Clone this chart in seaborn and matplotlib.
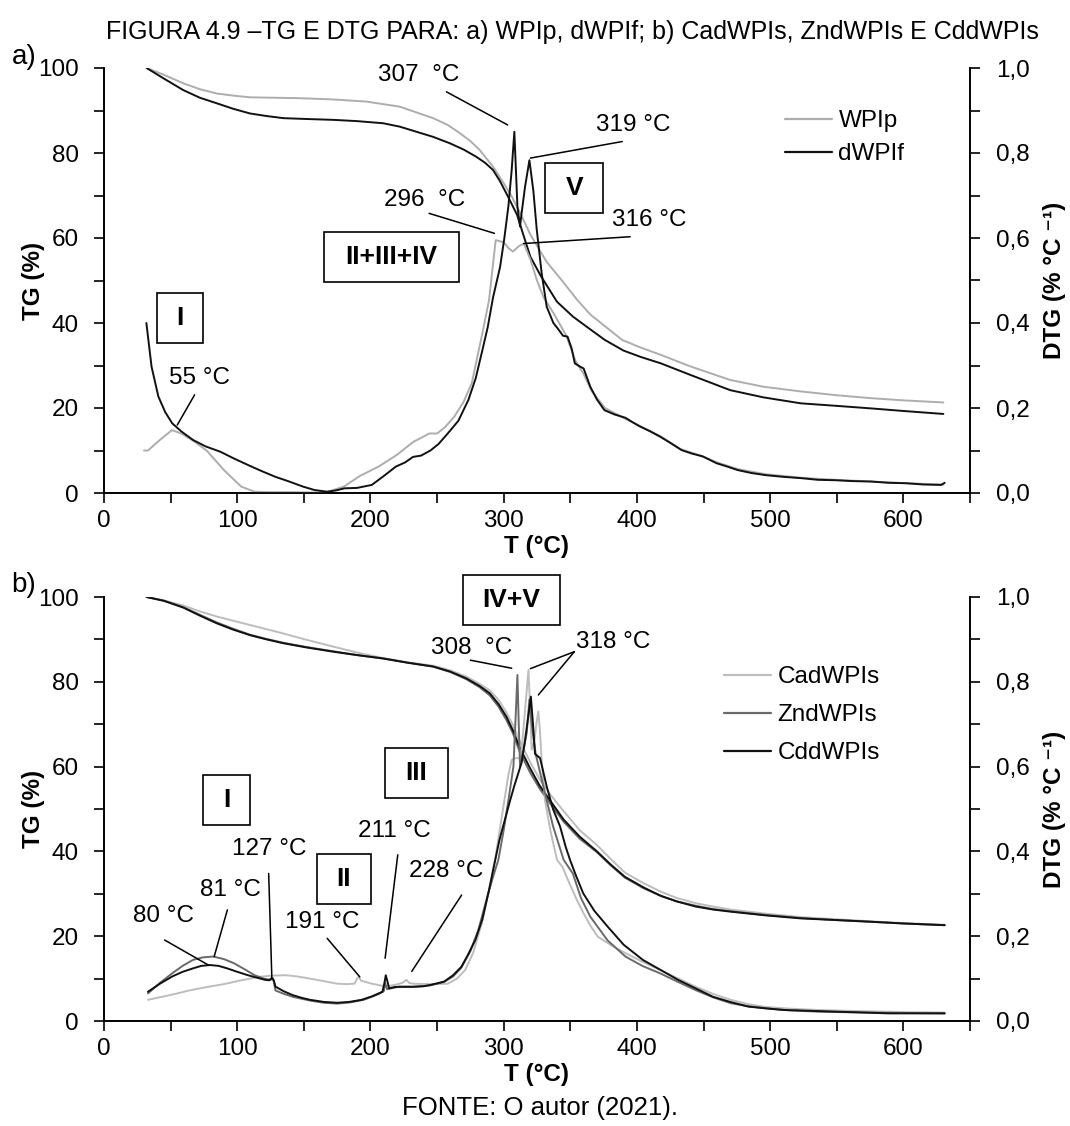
import matplotlib
matplotlib.use("Agg")
import matplotlib.pyplot as plt
import seaborn as sns
import pandas as pd
from matplotlib.ticker import MultipleLocator, FuncFormatter
from matplotlib.patches import Rectangle
from matplotlib.lines import Line2D

# --- DATA ---
# panel a) TG curves, %
wpip_tg_t = [32, 45, 59.5, 72, 84.6, 97, 109.6, 128, 147, 172, 197, 222, 247, 258, 267, 275, 282, 292, 300, 306,
             313, 320, 332, 345, 355, 365, 377, 389, 403, 418, 440, 470, 495, 523, 550, 576, 600, 630]
wpip_tg = [100, 98.4, 96.4, 95, 94, 93.5, 93.1, 93, 92.9, 92.6, 92.1, 90.9, 88.2, 86.6, 84.7, 82.8, 80.7, 76.8,
           72.9, 69.8, 65.5, 60.8, 54.5, 49.5, 45.5, 42, 39, 36, 34.2, 32.5, 29.8, 26.6, 25, 23.9, 23, 22.3, 21.8, 21.3]
dwpif_tg_t = [32, 45, 59.5, 72, 84.6, 97, 109.6, 122, 134.6, 152, 172, 190, 209.5, 222, 234.5, 247, 259.5, 270,
              279.5, 286, 292, 297, 302, 306, 310, 315, 320, 328, 335, 340, 352, 365, 376, 390, 403, 418, 440, 470,
              495, 523, 550, 576, 600, 630]
dwpif_tg = [100, 97.5, 94.8, 93, 91.7, 90.4, 89.3, 88.7, 88.2, 88, 87.8, 87.5, 87, 86.2, 85, 83.8, 82.3, 80.8,
            79.1, 77.7, 76, 73.5, 70.5, 68, 65.5, 60.5, 55.6, 51, 47.5, 45, 41.5, 38.5, 36, 33.5, 32, 30.5, 27.8,
            24.2, 22.5, 21.1, 20.5, 19.9, 19.3, 18.6]

# panel a) DTG curves, % per degC
wpip_dtg_t = [30, 33, 42, 51, 58, 66, 77, 90, 103, 113, 125, 142, 160, 168, 180, 192, 206, 220, 232, 240, 244,
              250, 256, 263, 270, 276, 284, 289, 294, 300, 304, 307, 311, 315, 320, 325, 330, 338, 347, 354, 360,
              366, 376, 391, 402, 418, 433, 449, 460, 476, 497, 523, 549, 576, 602, 630]
wpip_dtg = [0.10, 0.10, 0.125, 0.148, 0.14, 0.125, 0.10, 0.054, 0.015, 0.003, 0.002, 0.002, 0.001, 0.003, 0.015,
            0.04, 0.062, 0.09, 0.12, 0.133, 0.14, 0.14, 0.155, 0.18, 0.215, 0.258, 0.376, 0.454, 0.595, 0.59,
            0.575, 0.568, 0.58, 0.587, 0.55, 0.50, 0.46, 0.42, 0.37, 0.31, 0.28, 0.24, 0.20, 0.175, 0.158, 0.133,
            0.103, 0.087, 0.072, 0.056, 0.044, 0.036, 0.031, 0.027, 0.023, 0.02]
dwpif_dtg_t = [31.8, 35.7, 40.8, 46, 51.2, 58, 66.7, 76, 87.4, 97, 108, 118, 128.7, 139, 149.4, 158, 167.5, 174,
               180.5, 190, 201, 210, 219, 226, 232, 238, 245, 251, 258, 266, 273.5, 279, 284, 288, 292, 297.3,
               300.5, 303.5, 306, 308, 310.3, 312.3, 313.5, 316, 319.3, 322.3, 324.8, 328.5, 332.3, 337.3, 341.3,
               344.5, 347.9, 351, 353.4, 357, 360, 365, 370, 375.6, 383, 391.4, 396, 402, 410, 417.7, 425, 433.5,
               441, 449.4, 459.8, 468, 475.6, 486, 496.7, 510, 523, 536, 549.4, 562, 575.7, 589, 602, 615, 628.4, 631]
dwpif_dtg = [0.40, 0.297, 0.227, 0.19, 0.164, 0.145, 0.125, 0.11, 0.097, 0.082, 0.066, 0.052, 0.038, 0.027, 0.015,
             0.007, 0.003, 0.006, 0.011, 0.012, 0.019, 0.04, 0.062, 0.072, 0.085, 0.088, 0.10, 0.115, 0.14, 0.17,
             0.219, 0.27, 0.336, 0.39, 0.46, 0.532, 0.60, 0.674, 0.76, 0.85, 0.674, 0.627, 0.66, 0.72, 0.783, 0.71,
             0.62, 0.517, 0.438, 0.40, 0.384, 0.37, 0.368, 0.34, 0.305, 0.298, 0.293, 0.25, 0.22, 0.195, 0.185,
             0.177, 0.168, 0.157, 0.145, 0.132, 0.118, 0.101, 0.093, 0.086, 0.07, 0.062, 0.054, 0.047, 0.042, 0.038,
             0.035, 0.031, 0.03, 0.028, 0.027, 0.024, 0.023, 0.02, 0.019, 0.024]

# panel b) TG curves, %
b_tg_t = [32, 45, 59.5, 72, 84.6, 97, 109.6, 122, 134.6, 152, 172, 190, 209.5, 228, 247, 260, 272, 282, 289.5, 296,
          302, 307, 312, 320, 327, 336, 345, 357, 370, 380, 391, 405, 418, 430, 444, 457, 470, 497, 523, 550, 576,
          600, 631]
cad_tg = [100, 99.2, 98, 96.6, 95.4, 94.4, 93.4, 92.4, 91.4, 89.9, 88.3, 86.9, 85.6, 84.6, 83.8, 82.7, 81.2, 79.5,
          78, 75.8, 72.8, 69.8, 66, 61, 57, 53, 49.5, 45, 41.5, 38.3, 35, 32.5, 30.5, 29, 27.8, 27, 26.3, 25.3, 24.5,
          24, 23.5, 23.1, 22.7]
zn_tg = [100, 99.1, 97.6, 95.8, 94, 92.5, 91.1, 90.1, 89.2, 88.2, 87.2, 86.3, 85.5, 84.5, 83.6, 82.3, 80.6, 78.7,
         76.8, 74.2, 71, 67.8, 63.5, 58.5, 54.8, 50.8, 47, 43, 39.8, 36.8, 33.8, 31.3, 29.5, 28.2, 27.2, 26.4, 25.9,
         25, 24.3, 23.8, 23.4, 23, 22.6]
cd_tg = [100, 99.1, 97.5, 95.6, 93.8, 92.3, 91, 90, 89.1, 88.1, 87.1, 86.3, 85.5, 84.5, 83.6, 82.4, 80.8, 79, 77.3,
         74.8, 71.8, 68.5, 64.5, 59.5, 55.5, 51.5, 47.5, 43.5, 40, 37, 34, 31.5, 29.5, 28.2, 27, 26.3, 25.8, 24.9,
         24.2, 23.8, 23.4, 23, 22.6]

# panel b) DTG curves, % per degC
cad_dtg_t = [33, 45, 55, 64, 77, 90, 103, 116, 126, 136.5, 145, 154.6, 165, 175, 182, 188, 190, 191, 193, 201, 206,
             211.5, 218, 224, 227, 229, 232, 245, 258, 265, 271, 277, 284, 289, 293.5, 297, 301, 303.5, 306, 309,
             312.3, 314, 316.5, 318.6, 319.8, 321, 323, 324.5, 326, 327.3, 328.5, 331, 335, 340, 344, 350, 355, 360,
             365, 370.6, 380, 391.4, 404, 417.7, 431, 444, 457, 470.4, 483, 496.7, 515, 536, 570, 600, 631]
cad_dtg = [0.05, 0.058, 0.065, 0.072, 0.08, 0.087, 0.096, 0.104, 0.107, 0.108, 0.105, 0.10, 0.094, 0.088, 0.087,
           0.088, 0.10, 0.104, 0.095, 0.088, 0.085, 0.081, 0.085, 0.09, 0.097, 0.09, 0.088, 0.087, 0.088, 0.10,
           0.12, 0.16, 0.235, 0.31, 0.38, 0.45, 0.53, 0.58, 0.616, 0.62, 0.62, 0.66, 0.75, 0.828, 0.74, 0.64, 0.66,
           0.70, 0.73, 0.68, 0.615, 0.52, 0.45, 0.38, 0.364, 0.32, 0.285, 0.254, 0.225, 0.199, 0.18, 0.16, 0.14,
           0.12, 0.10, 0.081, 0.064, 0.05, 0.04, 0.033, 0.029, 0.026, 0.023, 0.021, 0.02]
zn_dtg_t = [33, 42, 51, 59, 66.7, 74, 82, 90, 97.7, 105, 113, 120, 125, 127, 128.7, 135, 141.7, 155, 165, 175, 185,
            195, 205, 210, 211, 212.5, 220, 232, 245, 255, 262, 268, 275, 281, 287, 292, 296, 300, 304, 307.3, 309,
            310.3, 311.3, 312.3, 315, 317.3, 319.3, 321, 324, 330, 337, 345, 351.9, 358, 365, 378, 391.4, 404,
            417.7, 431, 444, 457, 470.4, 483, 496.7, 515, 536, 570, 600, 631]
zn_dtg = [0.065, 0.09, 0.112, 0.13, 0.144, 0.15, 0.152, 0.146, 0.136, 0.123, 0.108, 0.10, 0.097, 0.10, 0.072, 0.064,
          0.057, 0.048, 0.043, 0.041, 0.044, 0.05, 0.062, 0.07, 0.09, 0.075, 0.08, 0.08, 0.084, 0.092, 0.105, 0.125,
          0.165, 0.215, 0.285, 0.34, 0.38, 0.45, 0.53, 0.60, 0.72, 0.816, 0.70, 0.60, 0.64, 0.68, 0.758, 0.70, 0.63,
          0.55, 0.46, 0.38, 0.348, 0.29, 0.246, 0.19, 0.152, 0.13, 0.112, 0.092, 0.073, 0.056, 0.042, 0.035, 0.03,
          0.025, 0.022, 0.02, 0.019, 0.018]
cd_dtg_t = [33, 42, 51.2, 59, 66.7, 73, 79.6, 86, 92.6, 100, 108, 115, 121, 124, 126, 127.5, 128.7, 135, 141.7, 148,
            154.6, 165, 175, 184, 193.4, 201, 209, 210.5, 211.5, 213, 214, 218, 221.8, 232, 240, 245, 255.4, 262,
            268.3, 273, 278.7, 284, 289, 293, 296.8, 300.5, 304.8, 308, 311, 313.5, 316, 318.5, 320.4, 322, 323.5,
            327.3, 332.3, 337, 342.3, 346.6, 349.8, 354, 359.7, 368, 378.2, 390, 404.5, 418, 430.9, 444, 457.2, 470,
            483.6, 496, 509.9, 530, 549.4, 570, 588.9, 610, 631]
cd_dtg = [0.069, 0.088, 0.105, 0.116, 0.124, 0.13, 0.132, 0.13, 0.124, 0.116, 0.108, 0.102, 0.097, 0.096, 0.102,
          0.095, 0.081, 0.07, 0.061, 0.055, 0.05, 0.045, 0.043, 0.045, 0.05, 0.058, 0.069, 0.09, 0.108, 0.09, 0.077,
          0.08, 0.081, 0.081, 0.082, 0.085, 0.093, 0.108, 0.128, 0.155, 0.191, 0.24, 0.309, 0.37, 0.427, 0.47, 0.52,
          0.555, 0.585, 0.61, 0.662, 0.72, 0.765, 0.70, 0.63, 0.62, 0.553, 0.50, 0.459, 0.41, 0.38, 0.345, 0.301,
          0.26, 0.222, 0.18, 0.144, 0.12, 0.097, 0.077, 0.057, 0.045, 0.034, 0.03, 0.026, 0.024, 0.022, 0.02, 0.018,
          0.018, 0.018]

samples_a = ["WPIp", "dWPIf"]
samples_b = ["CadWPIs", "ZndWPIs", "CddWPIs"]
colors = {"WPIp": "#adadad", "dWPIf": "#111111",
          "CadWPIs": "#bdbdbd", "ZndWPIs": "#6a6a6a", "CddWPIs": "#111111"}


def long_df(pairs):
    frames = [pd.DataFrame({"T": t, "v": v, "s": name}) for name, t, v in pairs]
    return pd.concat(frames, ignore_index=True)


tg_a = long_df([("WPIp", wpip_tg_t, wpip_tg), ("dWPIf", dwpif_tg_t, dwpif_tg)])
dtg_a = long_df([("WPIp", wpip_dtg_t, wpip_dtg), ("dWPIf", dwpif_dtg_t, dwpif_dtg)])
tg_b = long_df([("CadWPIs", b_tg_t, cad_tg), ("ZndWPIs", b_tg_t, zn_tg), ("CddWPIs", b_tg_t, cd_tg)])
dtg_b = long_df([("CadWPIs", cad_dtg_t, cad_dtg), ("ZndWPIs", zn_dtg_t, zn_dtg), ("CddWPIs", cd_dtg_t, cd_dtg)])

sns.set_style("ticks")
plt.rcParams['font.family'] = ['Liberation Sans', 'DejaVu Sans']
plt.rcParams['text.color'] = 'black'
plt.rcParams['axes.labelcolor'] = 'black'
plt.rcParams['xtick.color'] = 'black'
plt.rcParams['ytick.color'] = 'black'
FS = 17.5

fig = plt.figure(figsize=(10.7, 11.26), dpi=100)
W, H = 1070, 1126
ax_a = fig.add_axes([104 / W, 1 - 493 / H, 866 / W, 425 / H])
ax_b = fig.add_axes([104 / W, 1 - 1021 / H, 866 / W, 424 / H])


def setup(ax, tg, dtg, order):
    sns.lineplot(data=tg, x="T", y="v", hue="s", hue_order=order, palette=colors,
                 estimator=None, sort=False, legend=False, lw=1.4, ax=ax)
    ax2 = ax.twinx()
    sns.lineplot(data=dtg, x="T", y="v", hue="s", hue_order=order, palette=colors,
                 estimator=None, sort=False, legend=False, lw=1.4, ax=ax2)
    ax.set_xlim(0, 650)
    ax.set_ylim(0, 100)
    ax2.set_ylim(0, 1.0)
    ax.xaxis.set_major_locator(MultipleLocator(100))
    ax.xaxis.set_minor_locator(MultipleLocator(50))
    ax.yaxis.set_major_locator(MultipleLocator(20))
    ax.yaxis.set_minor_locator(MultipleLocator(10))
    ax2.yaxis.set_major_locator(MultipleLocator(0.2))
    ax2.yaxis.set_minor_locator(MultipleLocator(0.1))
    ax2.yaxis.set_major_formatter(FuncFormatter(lambda v, p: f"{v:.1f}".replace(".", ",")))
    for a in (ax, ax2):
        a.tick_params(which="both", direction="out", length=7, width=1.2, labelsize=FS, colors="black")
        for sp in a.spines.values():
            sp.set_linewidth(1.2)
            sp.set_color("black")
        a.spines["top"].set_visible(False)
    ax.tick_params(axis="y", pad=11)
    ax2.tick_params(axis="y", pad=12)
    ax.tick_params(axis="x", pad=5)
    ax.set_xlabel("T (°C)", fontsize=FS, fontweight="bold")
    ax.set_ylabel("TG (%)", fontsize=FS, fontweight="bold")
    ax2.set_ylabel("DTG (% °C ⁻¹)", fontsize=FS, fontweight="bold")
    ax.xaxis.set_label_coords(0.5, -0.125)
    ax.yaxis.set_label_coords(-0.081, 0.5)
    ax2.yaxis.set_label_coords(1.098, 0.5)
    ax.xaxis.label.set_va("center")
    ax.yaxis.label.set_va("center")
    ax2.yaxis.label.set_va("center")
    ax2.yaxis.label.set_rotation(90)
    return ax2


def note(ax, text, pos, starts_ends):
    ax.text(pos[0], pos[1], text, fontsize=FS, ha="center", va="center")
    for st, en in starts_ends:
        ax.annotate("", xy=en, xytext=st,
                    arrowprops=dict(arrowstyle="-", color="black", lw=1.1, shrinkA=0, shrinkB=0))


def box(ax, text, cx, cy, w, h=0.118):
    ax.add_patch(Rectangle((cx - w / 2, cy - h / 2), w, h, fill=True, fc="white", ec="black",
                           lw=1.2, clip_on=False, zorder=5))
    ax.text(cx, cy, text, fontsize=19, fontweight="bold", ha="center", va="center", zorder=6)


ax2_a = setup(ax_a, tg_a, dtg_a, samples_a)
ax2_b = setup(ax_b, tg_b, dtg_b, samples_b)

# panel a) annotations
note(ax2_a, "307  °C", (236, 0.983), [((257, 0.944), (303, 0.866))])
note(ax2_a, "296  °C", (241, 0.69), [((244, 0.658), (293, 0.611))])
note(ax2_a, "319 °C", (397, 0.866), [((389, 0.827), (320, 0.788))])
note(ax2_a, "316 °C", (409, 0.642), [((395, 0.603), (315, 0.587))])
note(ax2_a, "55 °C", (72, 0.27), [((68, 0.231), (55, 0.16))])
box(ax2_a, "I", 57, 0.412, 34.5)
box(ax2_a, "II+III+IV", 216, 0.555, 101)
box(ax2_a, "V", 353, 0.718, 43.5)

# panel b) annotations
note(ax2_b, "308  °C", (276, 0.88), [((275, 0.851), (306, 0.832))])
note(ax2_b, "318 °C", (382, 0.895), [((353, 0.871), (320, 0.831)), ((353, 0.871), (326, 0.769))])
note(ax2_b, "211 °C", (218, 0.448), [((220.5, 0.392), (211, 0.148))])
note(ax2_b, "127 °C", (124, 0.405), [((123.6, 0.348), (126, 0.10))])
note(ax2_b, "81 °C", (95, 0.309), [((92.6, 0.262), (82.7, 0.152))])
note(ax2_b, "80 °C", (45, 0.248), [((45.5, 0.191), (78.3, 0.132))])
note(ax2_b, "191 °C", (164, 0.233), [((167.5, 0.195), (192, 0.104))])
note(ax2_b, "228 °C", (257, 0.354), [((268.4, 0.297), (231, 0.117))])
box(ax2_b, "III", 234.6, 0.585, 47)
box(ax2_b, "I", 92, 0.521, 35)
box(ax2_b, "II", 180, 0.335, 40.5)
box(ax2_b, "IV+V", 306, 0.993, 73)

# legends
for ax2, order, anchor, sp in [(ax2_a, samples_a, (785 / W, 1 - 110 / H), 0.47),
                               (ax2_b, samples_b, (724 / W, 1 - 666 / H), 0.66)]:
    handles = [Line2D([], [], color=colors[s], lw=1.6) for s in order]
    ax2.legend(handles, order, loc="upper left", bbox_to_anchor=anchor, bbox_transform=fig.transFigure,
               frameon=False, fontsize=FS, handlelength=1.95, handletextpad=0.25, labelspacing=sp,
               borderpad=0, borderaxespad=0, labelcolor="black")

fig.text(24 / W, 1 - 57 / H, "a)", fontsize=20, ha="center", va="center")
fig.text(24 / W, 1 - 585 / H, "b)", fontsize=20, ha="center", va="center")
fig.text(572 / W, 1 - 32 / H, "FIGURA 4.9 –TG E DTG PARA: a) WPIp, dWPIf; b) CadWPIs, ZndWPIs E CddWPIs",
         fontsize=18, ha="center", va="center")
fig.text(540 / W, 1 - 1108 / H, "FONTE: O autor (2021).", fontsize=18.5, ha="center", va="center")

fig.savefig("out.png", dpi=100)
